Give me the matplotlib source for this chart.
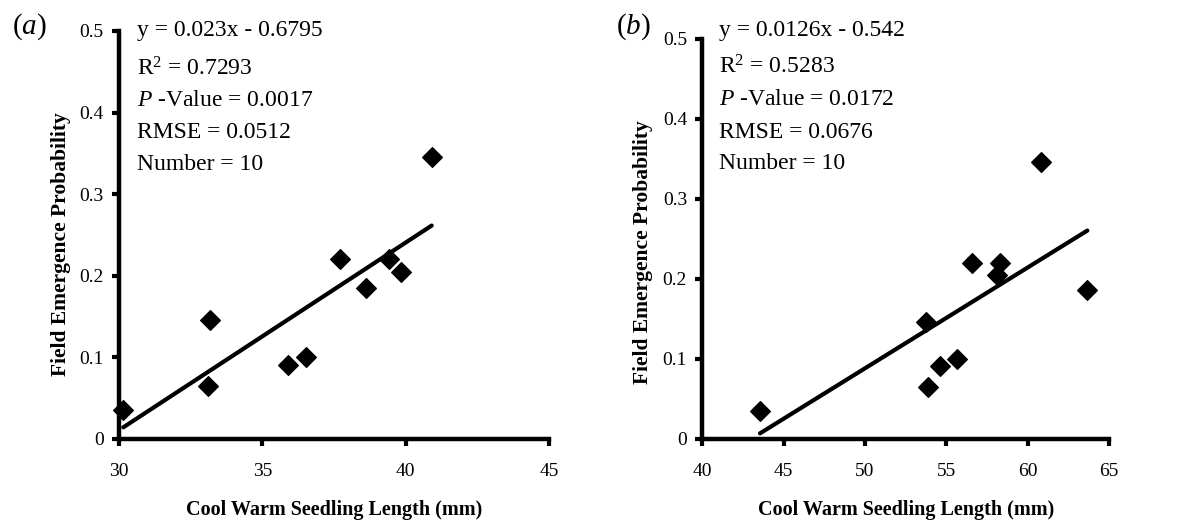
import matplotlib.pyplot as plt
import numpy as np

plt.rcParams['font.family'] = ['Liberation Serif', 'DejaVu Serif']
plt.rcParams['mathtext.fontset'] = 'custom'
plt.rcParams['mathtext.rm'] = 'Liberation Serif'
plt.rcParams['mathtext.it'] = 'Liberation Serif:italic'

# data
emergence = [0.035, 0.145, 0.065, 0.09, 0.10, 0.22, 0.185, 0.22, 0.205, 0.345]
len_a = [30.15, 33.19, 33.12, 35.91, 36.52, 37.70, 38.63, 39.42, 39.83, 40.91]
emergence_b = [0.035, 0.146, 0.065, 0.091, 0.10, 0.22, 0.205, 0.22, 0.186, 0.346]
len_b = [43.55, 53.75, 53.87, 54.61, 55.63, 56.57, 58.10, 58.28, 63.67, 60.80]

fit_a = [0.023, -0.6795]
fit_b = [0.0126, -0.542]
stats_a = ['y = 0.023x - 0.6795', 'R$^{2}$ = 0.7293', '$\\it{P}$ -Value = 0.0017',
           'RMSE = 0.0512', 'Number = 10']
stats_b = ['y = 0.0126x - 0.542', 'R$^{2}$ = 0.5283', '$\\it{P}$ -Value = 0.0172',
           'RMSE = 0.0676', 'Number = 10']

yticks = [0, 0.1, 0.2, 0.3, 0.4, 0.5]
ytick_labels = ['0', '0.1', '0.2', '0.3', '0.4', '0.5']
xticks_a = [30, 35, 40, 45]
xticks_b = [40, 45, 50, 55, 60, 65]

fig = plt.figure(figsize=(11.97, 5.2), dpi=100)
ax1 = fig.add_axes([0.0994, 0.1563, 0.3592, 0.7841])
ax2 = fig.add_axes([0.5867, 0.1563, 0.3398, 0.7692])


def panel(ax, xs, ys, fit, stats, xticks, line_y, ylab_x, ylab_y, xlab_y):
    ax.scatter(xs, ys, marker='D', s=100, color='black', zorder=3, clip_on=False)
    xf = np.array([min(xs), max(xs)])
    ax.plot(xf, fit[0] * xf + fit[1], color='black', lw=3, solid_capstyle='round')
    ax.set_xlim(xticks[0], xticks[-1])
    ax.set_ylim(0, 0.5)
    ax.set_xticks(xticks)
    ax.set_xticklabels([str(t) for t in xticks])
    ax.set_yticks(yticks)
    ax.set_yticklabels(ytick_labels)
    for s in ['top', 'right']:
        ax.spines[s].set_visible(False)
    for s in ['left', 'bottom']:
        ax.spines[s].set_linewidth(3.2)
    ax.tick_params(axis='both', length=5, width=3, labelsize=14)
    ax.tick_params(axis='y', pad=6)
    ax.tick_params(axis='x', pad=12.5)
    ax.set_xlabel('Cool Warm Seedling Length (mm)', fontsize=14.5, fontweight='bold')
    ax.set_ylabel('Field Emergence Probability', fontsize=15.5, fontweight='bold')
    ax.yaxis.set_label_coords(ylab_x, ylab_y)
    ax.xaxis.set_label_coords(0.5, xlab_y)
    for txt, yy in zip(stats, line_y):
        ax.text(0.042, yy, txt, transform=ax.transAxes, fontsize=17, va='baseline')


panel(ax1, len_a, emergence, fit_a, stats_a, xticks_a,
      [0.988, 0.892, 0.816, 0.738, 0.659], -0.112, 0.478, -0.151)
panel(ax2, len_b, emergence_b, fit_b, stats_b, xticks_b,
      [1.007, 0.912, 0.834, 0.752, 0.674], -0.122, 0.467, -0.154)

fig.text(0.010, 0.949, '($\\it{a}$)', fontsize=21, va='center')
fig.text(0.515, 0.949, '($\\it{b}$)', fontsize=21, va='center')

fig.savefig('out.png', dpi=100)
